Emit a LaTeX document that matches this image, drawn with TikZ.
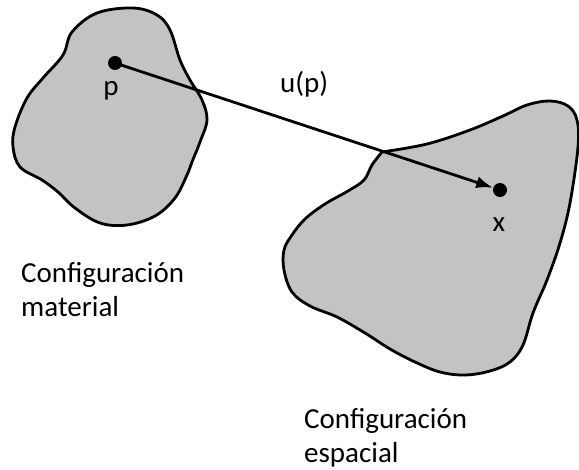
\documentclass[tikz,border=0pt]{standalone}
\usepackage{fontspec}
\setmainfont{Carlito}
\usetikzlibrary{arrows.meta}
\definecolor{bodygray}{HTML}{C3C3C3}
\tikzstyle{body} = [
    draw=black,
    fill=bodygray,
    line width=2.8pt,
    line join=round
    ]
\tikzstyle{point} = [circle, fill=black, inner sep=0pt, minimum size=14pt]
\tikzstyle{lbl} = [inner sep=0pt, align=left, font=\fontsize{29}{34}\selectfont]

\begin{document}
\begin{tikzpicture}[x=1pt,y=-1pt]
\useasboundingbox (0,0) rectangle (579,470);
% material configuration
\draw[body] plot[smooth cycle, tension=0.6] coordinates {
    (133,8) (157,15) (170,30) (180,60) (190,80) (202,100) (207,120)
    (200,142) (192,162) (187,175) (175,198) (155,216) (127,225)
    (100,223) (75,208) (58,192) (42,180) (20,167) (13,147) (15,127)
    (27,98) (43,78) (63,55) (72,32) (97,13)};
% spatial configuration
\draw[body] plot[smooth, tension=0.6] coordinates {
    (382,152) (427,144) (470,130) (503,116) (527,105) (550,101)
    (568,106) (577,120) (578,147) (570,203) (560,243) (547,280)
    (533,313) (523,345) (510,362) (490,371) (465,375) (440,372)
    (415,362) (390,349) (365,333) (337,317) (310,306) (292,292)
    (284,270) (284,250) (292,235) (305,219) (325,204) (348,191)
    (364,180) (372,165) (382,152)} -- cycle;

\node[point] (p) at (115,63) {};
\node[point] (x) at (500,190) {};
\draw[line width=2.8pt, -{Latex[length=17pt,width=12pt]}] (p.center) -- (x);

\node[lbl, anchor=base] (plabel) at (111,96) {p};
\node[lbl, anchor=base] (xlabel) at (499,232) {x};
\node[lbl, anchor=base west] (ulabel) at (280,93) {u(p)};
\node[lbl, anchor=base west] (matlabel) at (21,317) {Configuración\\material};
\node[lbl, anchor=base west] (esplabel) at (304,463) {Configuración\\espacial};
\end{tikzpicture}
\end{document}
